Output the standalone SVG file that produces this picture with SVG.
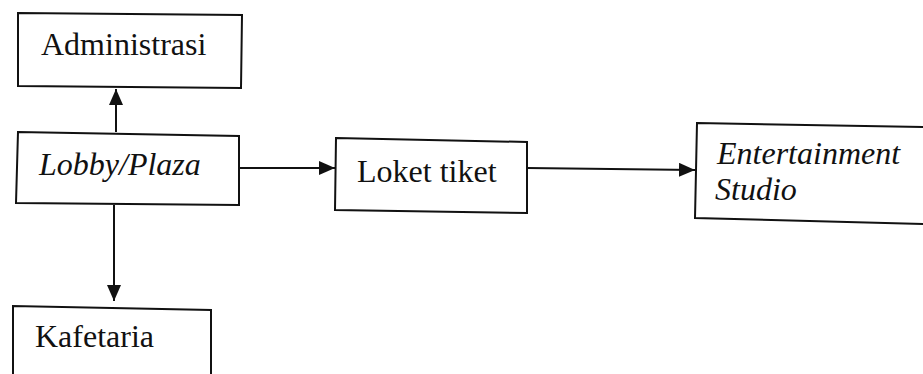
<svg xmlns="http://www.w3.org/2000/svg" width="923" height="374" viewBox="0 0 923 374">
  <style>
    .box { fill: none; stroke: #111; stroke-width: 2; }
    text { font-family: 'Liberation Serif', 'Times New Roman', 'DejaVu Serif', serif; font-size: 32px; fill: #111; }
    .it { font-style: italic; }
    .edge { fill: none; stroke: #111; stroke-width: 2; }
  </style>
  <defs>
    <marker id="head" viewBox="0 0 16 14" refX="16" refY="7" markerWidth="16" markerHeight="14" markerUnits="userSpaceOnUse" orient="auto">
      <path d="M0,0 L16,7 L0,14 z" fill="#111"/>
    </marker>
  </defs>
  <rect width="923" height="374" fill="#fff"/>

  <g id="edges">
    <path class="edge" d="M116,132 L116,89" marker-end="url(#head)"/>
    <path class="edge" d="M114,205 L114,301" marker-end="url(#head)"/>
    <path class="edge" d="M239,168 L335,168" marker-end="url(#head)"/>
    <path class="edge" d="M527,168 L695,170" marker-end="url(#head)"/>
  </g>

  <g id="administrasi">
    <path class="box" d="M18,13 L242,15 L241,88 L18,86 Z"/>
    <text x="41" y="55" font-family="Liberation Serif, serif">Administrasi</text>
  </g>

  <g id="lobby">
    <path class="box" d="M18,132 L239,136 L239,205 L16,203 Z"/>
    <text class="it" x="39" y="175" font-family="Liberation Serif, serif">Lobby/Plaza</text>
  </g>

  <g id="loket">
    <path class="box" d="M336,138 L527,142 L527,213 L335,210 Z"/>
    <text x="357" y="182" font-family="Liberation Serif, serif">Loket tiket</text>
  </g>

  <g id="studio">
    <path class="box" d="M697,123 L925,127 L925,224 L695,218 Z"/>
    <text class="it" x="717" y="164" font-family="Liberation Serif, serif">Entertainment</text>
    <text class="it" x="715" y="200" font-family="Liberation Serif, serif">Studio</text>
  </g>

  <g id="kafetaria">
    <path class="box" d="M13,377 L13,306 L211,310 L211,377"/>
    <text x="35" y="347" font-family="Liberation Serif, serif">Kafetaria</text>
  </g>
</svg>
